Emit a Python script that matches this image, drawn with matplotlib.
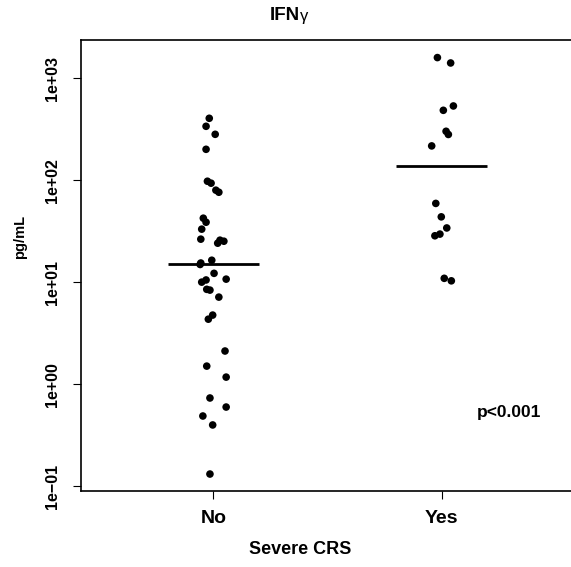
import numpy as np
import matplotlib.pyplot as plt

plt.rcParams['font.family'] = ['Liberation Sans', 'DejaVu Sans']
plt.rcParams['font.weight'] = 'bold'

groups = ['No', 'Yes']

# IFN-gamma levels (pg/mL) with the horizontal jitter used for each point
no_vals = [405, 338, 282, 201, 97.7, 93.5, 79.8, 76.2, 42.4, 38.7, 33.1, 26.4,
           25.8, 25.2, 24.1, 16.4, 15.4, 14.9, 12.2, 10.7, 10.5, 10.0, 8.5, 8.35,
           7.13, 4.75, 4.33, 2.11, 1.50, 1.17, 0.73, 0.595, 0.486, 0.397, 0.131]
no_jit = [-0.018, -0.032, 0.008, -0.032, -0.026, -0.010, 0.011, 0.024, -0.044,
          -0.032, -0.051, -0.055, 0.029, 0.046, 0.019, -0.007, -0.055, -0.058,
          0.003, 0.056, -0.032, -0.051, -0.029, -0.015, 0.024, -0.003, -0.022,
          0.051, -0.029, 0.056, -0.015, 0.056, -0.046, -0.003, -0.015]
yes_vals = [1596, 1413, 535, 485, 302, 281, 217, 59.2, 43.7, 34.0, 29.6, 28.5,
            10.9, 10.3]
yes_jit = [-0.019, 0.039, 0.051, 0.007, 0.019, 0.029, -0.044, -0.026, -0.002,
           0.022, -0.008, -0.030, 0.011, 0.042]

fig = plt.figure(figsize=(5.71, 5.67), dpi=100)
ax = fig.add_axes([0.1413, 0.1346, 0.8643, 0.7944])

for i, (vals, jit) in enumerate([(no_vals, no_jit), (yes_vals, yes_jit)]):
    x = np.array(jit) + i + 1
    ax.scatter(x, vals, s=30, color='black', edgecolors='none', zorder=3)
    med = np.median(vals)
    ax.plot([i + 1 - 0.2, i + 1 + 0.2], [med, med], color='black', lw=2,
            solid_capstyle='butt', zorder=2)

ax.set_yscale('log')
ax.set_xlim(0.419, 2.58)
ax.set_ylim(10 ** -1.046, 10 ** 3.373)

ax.set_xticks([1, 2])
ax.set_xticklabels(groups, fontsize=14, fontweight='bold')
yt = [0.1, 1, 10, 100, 1000]
ax.set_yticks(yt)
ax.set_yticklabels(['1e\u221201', '1e+00', '1e+01', '1e+02', '1e+03'],
                   rotation=90, va='center', fontsize=11.5, fontweight='bold')
ax.yaxis.set_minor_locator(plt.NullLocator())
ax.tick_params(axis='x', length=6, width=0.8, pad=8)
ax.tick_params(axis='y', length=6, width=0.8, pad=9)

for s in ['left', 'top', 'bottom']:
    ax.spines[s].set_linewidth(1.2)
ax.spines['right'].set_visible(False)

fig.text(0.525, 1 - 549 / 567, 'Severe CRS', ha='center', va='center',
         fontsize=13, fontweight='bold')
fig.text(20 / 571, 1 - 237 / 567, 'pg/mL', rotation=90, ha='center',
         va='center', fontsize=10.5, fontweight='bold')
fig.text(300 / 571, 1 - 15 / 567, 'IFN', ha='right', va='center',
         fontsize=13.5, fontweight='bold')
fig.text(300 / 571, 1 - 16 / 567, '\u03b3', ha='left', va='center',
         fontsize=12, fontweight='normal')
fig.text(509 / 571, 1 - 413 / 567, 'p<0.001', ha='center', va='center',
         fontsize=12.5, fontweight='bold')

fig.savefig('out.png', dpi=100)
